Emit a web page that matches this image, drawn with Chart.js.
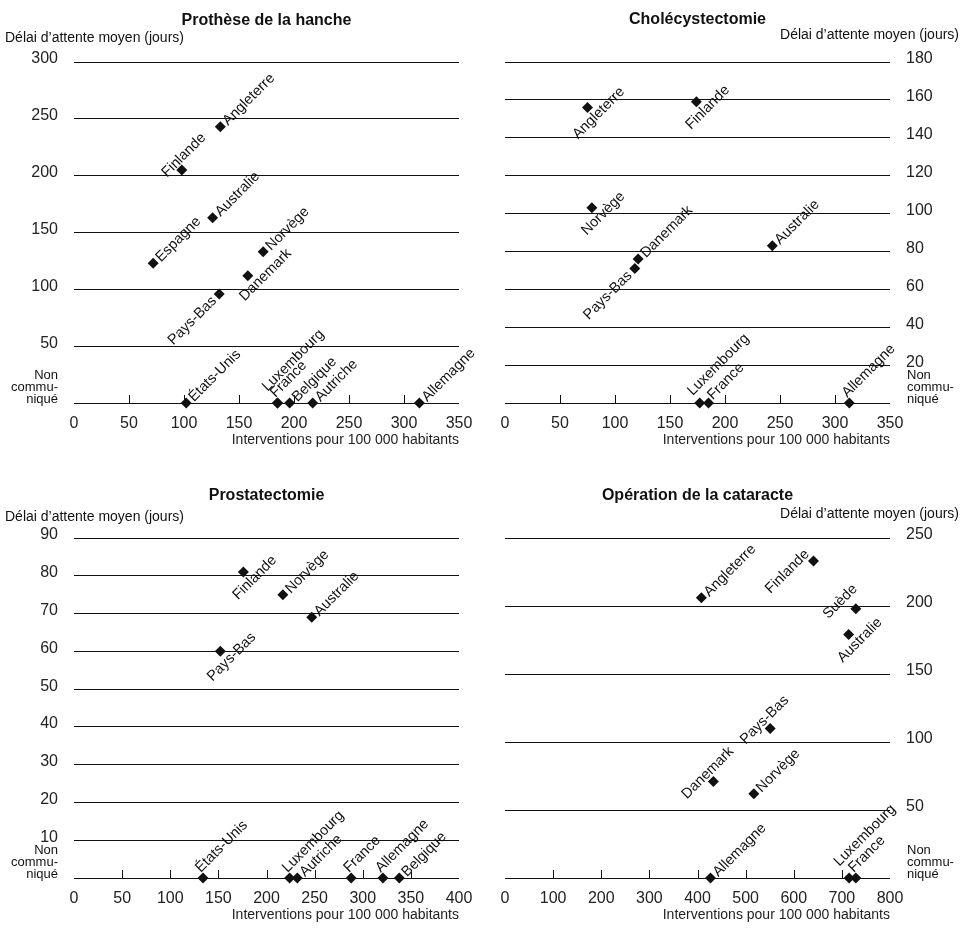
<!DOCTYPE html>
<html lang="fr">
<head>
<meta charset="utf-8">
<title>Délai d'attente et taux d'interventions</title>
<script src="https://cdn.jsdelivr.net/npm/chart.js@4"></script>
<style>
  html, body { margin: 0; padding: 0; background: #fff; }
  #page { position: relative; width: 963px; height: 928px; }
  .panel { position: absolute; }
</style>
</head>
<body>
<div id="page">
  <canvas id="hanche" class="panel" width="481" height="460" style="left:0px;top:0px"></canvas>
  <canvas id="chole" class="panel" width="482" height="460" style="left:481px;top:0px"></canvas>
  <canvas id="prostate" class="panel" width="481" height="468" style="left:0px;top:460px"></canvas>
  <canvas id="cataracte" class="panel" width="482" height="468" style="left:481px;top:460px"></canvas>
</div>
<script>
// null = délai non communiqué (point posé sur la ligne de base)

// Prothèse de la hanche
const hancheCountries = ['Angleterre', 'Finlande', 'Australie', 'Espagne', 'Norvège', 'Danemark', 'Pays-Bas', 'États-Unis', 'Luxembourg', 'France', 'Belgique', 'Autriche', 'Allemagne'];
const hancheRates = [133, 98, 126, 72, 172, 158, 132, 102, 185, 185, 196, 217, 314];
const hancheWaits = [243, 205, 163, 123, 133, 112, 96, null, null, null, null, null, null];
const hancheXTicks = [0, 350, 50];
const hancheYTicks = [0, 300, 50];

// Cholécystectomie
const choleCountries = ['Angleterre', 'Finlande', 'Norvège', 'Danemark', 'Pays-Bas', 'Australie', 'Luxembourg', 'France', 'Allemagne'];
const choleRates = [75, 174, 79, 121, 118, 243, 177, 185, 313];
const choleWaits = [156, 159, 103, 76, 71, 83, null, null, null];
const choleXTicks = [0, 350, 50];
const choleYTicks = [0, 180, 20];

// Prostatectomie
const prostateCountries = ['Finlande', 'Norvège', 'Australie', 'Pays-Bas', 'États-Unis', 'Luxembourg', 'Autriche', 'France', 'Allemagne', 'Belgique'];
const prostateRates = [176, 217, 247, 152, 134, 224, 232, 288, 321, 338];
const prostateWaits = [81, 75, 69, 60, null, null, null, null, null, null];
const prostateXTicks = [0, 400, 50];
const prostateYTicks = [0, 90, 10];

// Opération de la cataracte
const cataracteCountries = ['Angleterre', 'Finlande', 'Suède', 'Australie', 'Pays-Bas', 'Danemark', 'Norvège', 'Allemagne', 'Luxembourg', 'France'];
const cataracteRates = [408, 641, 729, 714, 551, 433, 517, 427, 715, 729];
const cataracteWaits = [206, 233, 198, 179, 110, 71, 62, null, null, null];
const cataracteXTicks = [0, 800, 100];
const cataracteYTicks = [0, 250, 50];

// where each country name sits next to its marker (text runs at 45°)
const hanchePlace = ['a', 'uf', 'a', 'a', 'a', 'd2', 'b', 'a', 'a2', 'a1', 'a', 'a', 'a'];
const cholePlace = ['d', 'd', 'd', 'a', 'b', 'a', 'lx', 'fr', 'a1'];
const prostatePlace = ['d', 'a', 'a', 'd', 'a1', 'a1', 'a', 'a1', 'a1', 'a'];
const cataractePlace = ['a', 'b1', 'u2', 'd', 'u', 'u', 'a', 'a', 'a2', 'a1'];

// [textAlign, shift along the text, shift across it (+ = down-right)]
const PLACE = {
  a: ['left', 6, 1],
  a1: ['left', 2, -9],
  a2: ['left', 1, -19],
  lx: ['left', 0, -14],
  fr: ['left', 5, -3],
  b: ['right', -7, 0],
  b1: ['right', 2, -11],
  u: ['center', 2, -10],
  uf: ['center', 12, -9],
  u2: ['center', -6, -16],
  d: ['center', 4, 12],
  d2: ['center', 13, 12]
};

const FONT = '"Liberation Sans", Arial, Helvetica, sans-serif';
const INK = '#111';
Chart.defaults.font.family = FONT;
Chart.defaults.color = '#222';

const decor = {
  id: 'decor',
  beforeDatasetsDraw(chart) {
    const { ctx, scales: { x, y } } = chart;
    const base = y.getPixelForValue(0);
    ctx.save();
    ctx.strokeStyle = INK;
    ctx.lineWidth = 1;
    x.ticks.forEach((t) => {
      if (t.value === x.min || t.value === x.max) return;
      const px = Math.round(x.getPixelForValue(t.value)) + 0.5;
      ctx.beginPath();
      ctx.moveTo(px, base);
      ctx.lineTo(px, base - 8);
      ctx.stroke();
    });
    ctx.restore();
  },
  afterDraw(chart, args, opts) {
    const { ctx, chartArea, scales: { y } } = chart;
    const right = opts.side === 'right';
    const base = y.getPixelForValue(0);
    ctx.save();
    ctx.fillStyle = INK;

    ctx.font = 'bold 16px ' + FONT;
    ctx.textAlign = 'center';
    ctx.textBaseline = 'alphabetic';
    ctx.fillText(opts.title, (chartArea.left + chartArea.right) / 2, chartArea.top - opts.titleGap);

    ctx.font = '14px ' + FONT;
    ctx.textAlign = right ? 'right' : 'left';
    ctx.fillText('Délai d’attente moyen (jours)', right ? chart.width - 4 : 5, chartArea.top - opts.yTitleGap);

    ctx.font = '13px ' + FONT;
    ctx.textAlign = right ? 'left' : 'right';
    const nx = right ? chartArea.right + 17 : chartArea.left - 16;
    ['Non', 'commu-', 'niqué'].forEach((line, i) => {
      ctx.fillText(line, nx, base - 24 + i * 12);
    });

    const meta = chart.getDatasetMeta(0);
    ctx.font = '14.5px ' + FONT;
    ctx.textBaseline = 'middle';
    meta.data.forEach((pt, i) => {
      const [align, along, across] = PLACE[opts.places[i]];
      ctx.save();
      ctx.translate(pt.x, pt.y);
      ctx.rotate(-Math.PI / 4);
      ctx.textAlign = align;
      ctx.fillText(opts.labels[i], along, across);
      ctx.restore();
    });
    ctx.restore();
  }
};

function makePanel(id, cfg) {
  const right = cfg.side === 'right';
  const points = cfg.rates.map((r, i) => ({ x: r, y: cfg.waits[i] === null ? 0 : cfg.waits[i] }));

  new Chart(document.getElementById(id), {
    type: 'scatter',
    data: {
      datasets: [{
        data: points,
        pointStyle: 'rectRot',
        pointRadius: 5.5,
        backgroundColor: INK,
        borderColor: INK,
        borderWidth: 0,
        clip: false
      }]
    },
    options: {
      responsive: false,
      animation: false,
      events: [],
      layout: { padding: cfg.padding },
      plugins: {
        legend: { display: false },
        tooltip: { enabled: false },
        decor: {
          side: cfg.side,
          title: cfg.title,
          titleGap: cfg.titleGap,
          yTitleGap: cfg.yTitleGap,
          labels: cfg.countries,
          places: cfg.places
        }
      },
      scales: {
        x: {
          type: 'linear',
          min: cfg.xTicks[0],
          max: cfg.xTicks[1],
          ticks: { stepSize: cfg.xTicks[2], padding: 3, font: { size: 16 } },
          grid: { display: false },
          border: { display: false },
          title: {
            display: true,
            text: 'Interventions pour 100 000 habitants',
            align: 'end',
            font: { size: 14 },
            padding: { top: 0, bottom: 0 }
          },
          afterFit: (s) => { s.height = 46; }
        },
        y: {
          type: 'linear',
          position: right ? 'right' : 'left',
          min: cfg.yTicks[0],
          max: cfg.yTicks[1],
          ticks: {
            stepSize: cfg.yTicks[2],
            padding: 16,
            labelOffset: -3,
            font: { size: 16 },
            callback: (v) => (v === 0 ? '' : v)
          },
          grid: { color: INK, lineWidth: 1, drawTicks: false },
          border: { display: false },
          afterFit: (s) => { s.width = right ? 73 : 74; }
        }
      }
    },
    plugins: [decor]
  });
}

makePanel('hanche', {
  title: 'Prothèse de la hanche', side: 'left',
  countries: hancheCountries, rates: hancheRates, waits: hancheWaits, places: hanchePlace,
  xTicks: hancheXTicks, yTicks: hancheYTicks,
  padding: { left: 0, right: 22, top: 62, bottom: 11 }, titleGap: 37, yTitleGap: 20
});

makePanel('chole', {
  title: 'Cholécystectomie', side: 'right',
  countries: choleCountries, rates: choleRates, waits: choleWaits, places: cholePlace,
  xTicks: choleXTicks, yTicks: choleYTicks,
  padding: { left: 24, right: 0, top: 62, bottom: 11 }, titleGap: 38, yTitleGap: 23
});

makePanel('prostate', {
  title: 'Prostatectomie', side: 'left',
  countries: prostateCountries, rates: prostateRates, waits: prostateWaits, places: prostatePlace,
  xTicks: prostateXTicks, yTicks: prostateYTicks,
  padding: { left: 0, right: 22, top: 78, bottom: 4 }, titleGap: 38, yTitleGap: 17
});

makePanel('cataracte', {
  title: 'Opération de la cataracte', side: 'right',
  countries: cataracteCountries, rates: cataracteRates, waits: cataracteWaits, places: cataractePlace,
  xTicks: cataracteXTicks, yTicks: cataracteYTicks,
  padding: { left: 24, right: 0, top: 78, bottom: 4 }, titleGap: 38, yTitleGap: 20
});
</script>
</body>
</html>
